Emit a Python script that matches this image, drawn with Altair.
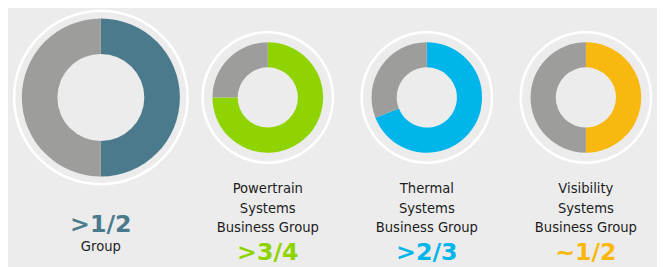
import altair as alt
import pandas as pd

# ---- data ----
GROUPS = ["Group", "Powertrain Systems Business Group",
          "Thermal Systems Business Group", "Visibility Systems Business Group"]
LABEL_LINES = [["Group"], ["Powertrain", "Systems", "Business Group"],
               ["Thermal", "Systems", "Business Group"],
               ["Visibility", "Systems", "Business Group"]]
FRACTIONS = [">1/2", ">3/4", ">2/3", "~1/2"]
SHARES = [0.50, 0.75, 0.69, 0.50]
COLORS = ["#4b7a8c", "#8fd400", "#00b5ea", "#f9b80f"]
REST_COLOR = "#9d9d9b"

# ---- layout (pixels, relative to chart origin; page margin is 8px) ----
OFF = 8
CX = [102, 271, 432, 593]
CY = 97
OUTER = [80, 56, 56, 56]
INNER = [44, 30.5, 30.5, 30.5]
RING = [87.8, 66, 66, 66]
LABEL_FONT = "DejaVu Sans Condensed, sans-serif"
FRAC_FONT = "DejaVu Sans, sans-serif"

rows = []
for g, s, c in zip(GROUPS, SHARES, COLORS):
    rows.append({"group": g, "key": g, "value": s, "ord": 0})
    rows.append({"group": g, "key": "Rest", "value": round(1 - s, 4), "ord": 1})
df = pd.DataFrame(rows)

color_scale = alt.Scale(domain=GROUPS + ["Rest"], range=COLORS + [REST_COLOR])

layers = []
for i, g in enumerate(GROUPS):
    x = CX[i] - OFF
    y = CY - OFF
    ring = alt.Chart(pd.DataFrame({"a": [1]})).mark_arc(
        theta=0, theta2=6.2832, outerRadius=RING[i] + 1.3, innerRadius=RING[i] - 1.3,
        color="white"
    ).encode(x=alt.value(x), y=alt.value(y))
    donut = alt.Chart(df).transform_filter(alt.datum.group == g).mark_arc(
        outerRadius=OUTER[i], innerRadius=INNER[i]
    ).encode(
        theta=alt.Theta("value:Q", stack=True),
        color=alt.Color("key:N", scale=color_scale, legend=None),
        order=alt.Order("ord:Q"),
        x=alt.value(x), y=alt.value(y),
    )
    layers += [ring, donut]

    if i == 0:
        frac_y = 233
        line_ys = [252]
    else:
        frac_y = 262
        line_ys = [194, 214, 233]
    for line, ly in zip(LABEL_LINES[i], line_ys):
        layers.append(
            alt.Chart(pd.DataFrame({"t": [line]})).mark_text(
                font=LABEL_FONT, fontSize=14.8, color="#1c1c1c",
                align="center", baseline="alphabetic"
            ).encode(text="t:N", x=alt.value(x), y=alt.value(ly - OFF))
        )
    layers.append(
        alt.Chart(pd.DataFrame({"t": [FRACTIONS[i]]})).mark_text(
            font=FRAC_FONT, fontSize=24, fontWeight="bold", color=COLORS[i],
            align="center", baseline="alphabetic"
        ).encode(text="t:N", x=alt.value(x), y=alt.value(frac_y - OFF))
    )

chart = alt.layer(*layers).properties(
    width=665 - OFF, height=267 - OFF,
    autosize=alt.AutoSizeParams(type="none"),
    padding=0, background="#ececec"
).configure_view(stroke=None)

chart.save("out.html", embed_options={"renderer": "svg", "actions": False})
